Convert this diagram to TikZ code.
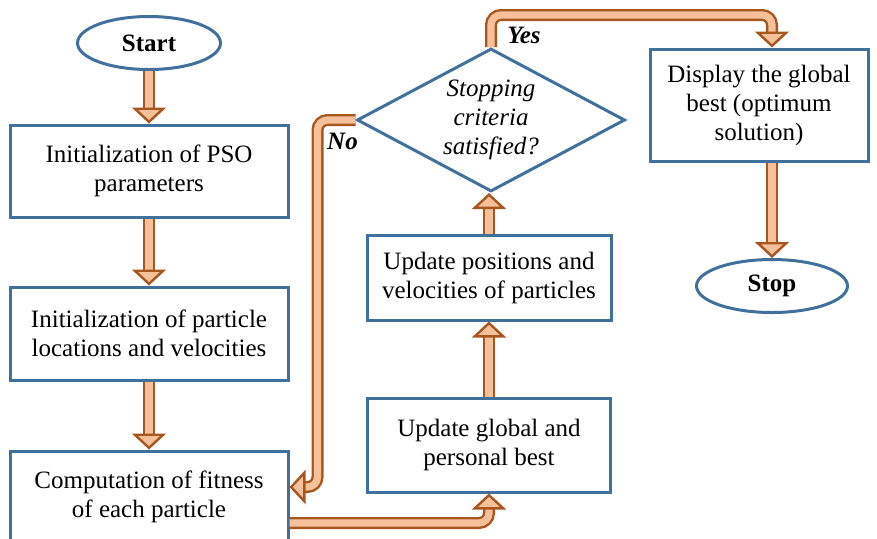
\documentclass[tikz,border=0pt]{standalone}
\usepackage{fontspec}
\setmainfont{Liberation Serif}
\usetikzlibrary{shapes.geometric,arrows.meta}
\definecolor{boxblue}{HTML}{41709C}
\definecolor{arrbrown}{HTML}{A8561F}
\definecolor{arrfill}{HTML}{F6C09A}
\tikzset{gbox/.style={
    rectangle,
    draw=boxblue,
    line width=1.5pt,
    align=center,
    inner sep=0pt,
    font=\fontsize{12.5}{14.5}\selectfont
  },
  termbox/.style={gbox,ellipse,font=\fontsize{12.5}{14.5}\selectfont\bfseries},
  questbox/.style={gbox,diamond,aspect=1.88,font=\fontsize{12.5}{14.5}\selectfont\itshape},
  lbl/.style={font=\fontsize{12.5}{14.5}\selectfont\bfseries\itshape,inner sep=0pt},
  flow/.style={draw=arrbrown,line width=1.2pt,double=arrfill,double distance=3.6pt,
    rounded corners=5pt,-{Triangle[length=8pt,width=17pt,line width=1.2pt,fill=arrfill]}},
}
\begin{document}
\begin{tikzpicture}[x=0.5pt,y=-0.5pt]
  \clip (0,0) rectangle (877,538);
  % left column
  \node [termbox,minimum width=71.5pt,minimum height=26.5pt] (start) at (149,43) {Start};
  \node [gbox,minimum width=139pt,minimum height=46pt] (init) at (149,171)
    {Initialization of PSO\\ parameters};
  \node [gbox,minimum width=139pt,minimum height=46.5pt] (loc) at (149,333.5)
    {Initialization of particle\\ locations and velocities};
  \node [gbox,minimum width=139pt,minimum height=45.5pt] (fit) at (149,496.5)
    {Computation of fitness\\ of each particle};
  % middle column
  \node [gbox,minimum width=121.5pt,minimum height=47pt] (gbest) at (489,445)
    {Update global and\\ personal best};
  \node [gbox,minimum width=122pt,minimum height=42.5pt] (upd) at (489,277.5)
    {Update positions and\\ velocities of particles};
  \node [questbox,minimum width=134pt,minimum height=71.5pt] (stopq) at (491,120)
    {Stopping\\ criteria\\ satisfied?};
  % right column
  \node [gbox,minimum width=109pt,minimum height=56pt] (disp) at (759,105)
    {Display the global\\ best (optimum\\ solution)};
  \node [termbox,minimum width=75.5pt,minimum height=26.5pt] (stop) at (772,286) {Stop};
  % labels
  \node [lbl] (no) at ([xshift=-6.5pt,yshift=-10.5pt]stopq.west) {No};
  \node [lbl] (yes) at ([xshift=16.5pt,yshift=6pt]stopq.north) {Yes};
  % connectors
  \draw[flow] (start.south) -- (init.north);
  \draw[flow] (init) -- (loc);
  \draw[flow] (loc) -- (fit);
  \draw[flow] ([yshift=-13.25pt]fit.east) -| (gbest.south);
  \draw[flow] (gbest.north) -- (gbest.north |- upd.south);
  \draw[flow] (upd.north) -- (upd.north |- stopq.south);
  \draw[flow] (stopq.north) -- ++(0,-32) -| (stop.north |- disp.north);
  \draw[flow] (stopq.west) -- ++(-38,0) |- ([yshift=4.75pt]fit.east);
  \draw[flow] (stop.north |- disp.south) -- (stop.north);
\end{tikzpicture}
\end{document}
